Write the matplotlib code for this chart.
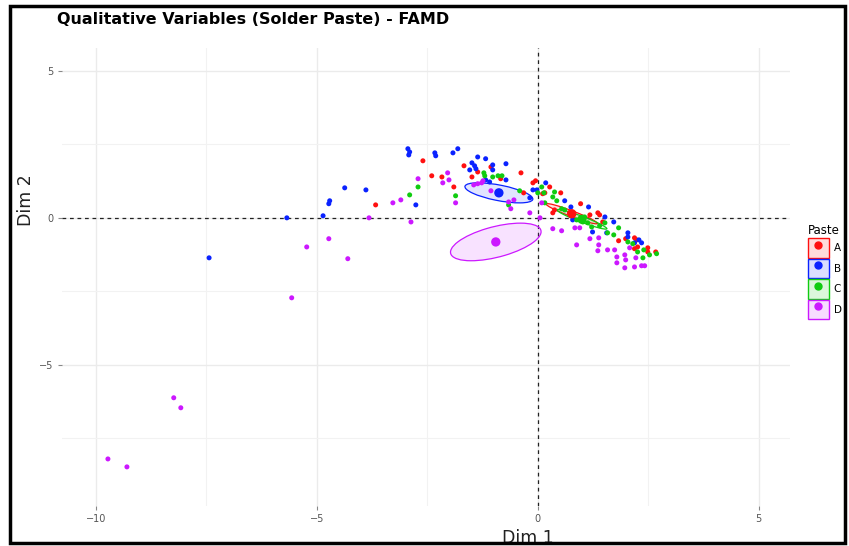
"""
FAMD - individuals coloured by Solder Paste, with confidence ellipses.
"""
import numpy as np
import matplotlib.pyplot as plt
from matplotlib.patches import Ellipse, Patch, Rectangle
from matplotlib.lines import Line2D
from matplotlib.legend_handler import HandlerTuple
from matplotlib.colors import to_rgba

# ── Data (Dim 1, Dim 2) ──────────────────────────────────────────────────────
a_x = [-3.67, -2.60, -2.40, -2.17, -1.90, -1.67, -1.36, -1.49, -1.06, -0.84,
       -0.38, -0.32, -0.11, -0.05, 0.16, 0.27, 0.11, 0.52, 0.97, 0.34, 0.38,
       0.72, 0.79, 1.18, 1.36, 1.40, 1.47, 1.83, 1.99, 2.19, 2.24, 2.19, 2.26,
       2.49, 2.49, 2.67]
a_y = [0.44, 1.94, 1.43, 1.39, 1.05, 1.77, 1.56, 1.39, 1.73, 1.33,
       1.53, 0.85, 1.19, 1.26, 0.85, 1.05, 0.82, 0.85, 0.48, 0.17, 0.27,
       0.17, 0.10, 0.10, 0.17, 0.10, -0.14, -0.78, -0.71, -0.68, -0.75, -1.05,
       -0.99, -1.02, -1.16, -1.16]

b_x = [-7.44, -5.68, -4.86, -4.73, -4.71, -4.37, -3.89, -2.76, -2.94, -2.90,
       -2.92, -2.33, -2.31, -1.92, -1.81, -1.36, -1.18, -1.49, -1.43, -1.40,
       -1.54, -1.02, -1.02, -0.72, -1.18, -1.09, -0.72, -0.18, -0.11, 0.18,
       -0.02, 0.61, 0.75, 1.15, 0.79, 1.52, 1.72, 1.24, 1.56, 2.04, 2.04,
       2.19, 2.29, 2.35]
b_y = [-1.36, 0.00, 0.07, 0.48, 0.58, 1.02, 0.95, 0.44, 2.35, 2.24,
       2.14, 2.21, 2.11, 2.21, 2.35, 2.07, 2.01, 1.87, 1.77, 1.67,
       1.63, 1.80, 1.63, 1.84, 1.29, 1.22, 1.29, 0.68, 0.95, 1.19,
       0.95, 0.58, 0.37, 0.37, -0.07, 0.03, -0.14, -0.48, -0.51, -0.51, -0.65,
       -0.85, -0.75, -0.85]

c_x = [-2.90, -2.71, -1.86, -1.22, -1.20, -1.02, -0.90, -0.81, -0.66, -0.41,
       0.00, 0.09, 0.14, 0.38, 0.34, 0.43, 0.54, 0.16, 0.88, 1.02, 1.13, 1.06,
       1.22, 1.40, 1.52, 1.58, 1.72, 1.83, 2.04, 2.15, 2.26, 2.40, 2.53, 2.69,
       2.38, 0.61]
c_y = [0.78, 1.05, 0.75, 1.53, 1.43, 1.39, 1.43, 1.43, 0.44, 0.92,
       0.85, 1.05, 0.85, 0.88, 0.71, 0.58, 0.31, 0.51, -0.07, -0.14, -0.17, 0.03,
       -0.31, -0.27, -0.17, -0.51, -0.58, -0.34, -0.82, -0.88, -1.16, -1.09,
       -1.26, -1.22, -1.36, 0.27]

d_x = [-9.73, -9.30, -8.24, -8.08, -5.57, -5.23, -4.73, -4.30, -3.82, -3.28,
       -3.10, -2.87, -2.71, -2.15, -2.04, -2.01, -1.86, -1.45, -1.36, -1.27,
       -1.24, -1.06, -0.66, -0.54, -0.61, -0.18, 0.05, 0.09, 0.34, 0.54, 0.84,
       0.95, 0.88, 1.18, 1.38, 1.38, 1.36, 1.58, 1.79, 1.97, 1.99, 1.79, 1.97,
       2.22, 2.19, 2.35, 2.42, 2.08, 1.74]
d_y = [-8.20, -8.47, -6.12, -6.46, -2.72, -0.99, -0.71, -1.39, 0.00, 0.51,
       0.61, -0.14, 1.33, 1.19, 1.53, 1.29, 0.51, 1.12, 1.16, 1.19,
       1.26, 0.92, 0.54, 0.61, 0.31, 0.17, 0.00, 0.51, -0.37, -0.44, -0.34,
       -0.34, -0.92, -0.71, -0.68, -0.92, -1.12, -1.09, -1.33, -1.26, -1.43,
       -1.53, -1.70, -1.36, -1.67, -1.63, -1.63, -1.02, -1.09]

groups = ["A", "B", "C", "D"]
colors = ["#FF1010", "#0A22FF", "#10CC10", "#CC18FF"]
points = [(a_x, a_y), (b_x, b_y), (c_x, c_y), (d_x, d_y)]

# group centres and confidence ellipses: (width, height, angle)
centres = [(0.77, 0.14), (-0.88, 0.85), (1.00, -0.05), (-0.95, -0.82)]
ellipses = [(1.34, 0.18, -30), (1.60, 0.52, -17), (1.30, 0.18, -30),
            (2.20, 1.00, 24)]

# ── Graf ─────────────────────────────────────────────────────────────────────
fig = plt.figure(figsize=(8.49, 5.46), dpi=100)
ax = fig.add_axes([0.073, 0.0733, 0.857, 0.839])

for (cx, cy), (w, h, ang), col in zip(centres, ellipses, colors):
    ax.add_patch(Ellipse((cx, cy), w, h, angle=ang, facecolor=to_rgba(col, 0.12),
                         edgecolor=col, lw=0.9, zorder=2))

for (px, py), col in zip(points, colors):
    ax.scatter(px, py, s=13, color=col, edgecolors='none', zorder=3)

for (cx, cy), col in zip(centres, colors):
    ax.scatter(cx, cy, s=45, color=col, edgecolors='none', zorder=4)

ax.axhline(0, color='#222222', ls=(0, (3, 3)), lw=0.9, zorder=1)
ax.axvline(0, color='#222222', ls=(0, (3, 3)), lw=0.9, zorder=1)

ax.set_xlim(-10.77, 5.70)
ax.set_ylim(-9.80, 5.78)
ax.set_xticks([-10, -5, 0, 5])
ax.set_yticks([-5, 0, 5])
ax.set_xticks([-7.5, -2.5, 2.5], minor=True)
ax.set_yticks([-7.5, -2.5, 2.5], minor=True)
ax.grid(True, which='major', color='#ebebeb', lw=1.0, zorder=0)
ax.grid(True, which='minor', color='#f2f2f2', lw=0.8, zorder=0)
ax.set_axisbelow(True)
for s in ax.spines.values():
    s.set_visible(False)
ax.tick_params(which='major', length=3, width=0.8, color='#888888',
               labelsize=7, labelcolor='#555555', pad=3)
ax.tick_params(which='minor', length=0)

# axis titles sit near the origin lines, not centred on the panel
ax.set_xlabel("Dim 1", fontsize=12.5, color='#222222')
ax.set_ylabel("Dim 2", fontsize=12.5, color='#222222')
ax.xaxis.set_label_coords(0.640, -0.050)
ax.yaxis.set_label_coords(-0.037, 0.668)

fig.text(0.067, 0.965, "Qualitative Variables (Solder Paste) - FAMD",
         fontsize=11.5, fontweight='bold', ha='left', va='center')

handles = [(Patch(facecolor=to_rgba(c, 0.15), edgecolor=c, lw=1.0),
            Line2D([], [], marker='o', ls='', color=c, ms=5))
           for c in colors]
leg = ax.legend(handles, groups, title="Paste", loc='upper left',
                bbox_to_anchor=(1.025, 0.615), frameon=False, fontsize=7.5,
                title_fontsize=8.5, handler_map={tuple: HandlerTuple(ndivide=1)},
                handlelength=2.0, handleheight=2.5, labelspacing=0.1,
                handletextpad=0.5, borderpad=0, borderaxespad=0)
leg._legend_box.align = "left"

# black frame around the whole picture
fig.patches.append(Rectangle((0.012, 0.006), 0.983, 0.983, transform=fig.transFigure,
                             fill=False, edgecolor='black', lw=2.5))

plt.savefig("out.png", dpi=100)
